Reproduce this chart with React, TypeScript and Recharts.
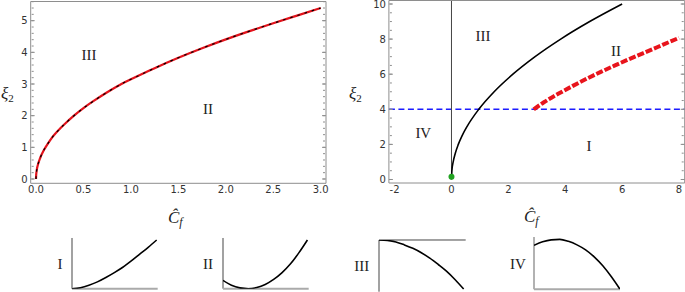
import React from 'react';
import { ComposedChart, Line, XAxis, YAxis, ReferenceLine, Scatter } from 'recharts';

// ---------- Left panel: boundary curve (black solid + red dashed overlay)
const leftCf = [0, 0.002, 0.005, 0.01, 0.02, 0.035, 0.05, 0.075, 0.1, 0.15, 0.2, 0.25, 0.3, 0.4, 0.5, 0.6, 0.75, 0.9, 1.0, 1.25, 1.5, 1.75, 2.0, 2.25, 2.5, 2.75, 3.0];
const leftXi = [0, 0.14, 0.22, 0.32, 0.45, 0.59, 0.71, 0.87, 1.0, 1.23, 1.42, 1.58, 1.73, 2.0, 2.24, 2.45, 2.74, 3.0, 3.15, 3.5, 3.83, 4.13, 4.41, 4.67, 4.92, 5.16, 5.4];

// ---------- Right panel
const rightBlackCf = [0, 0.015, 0.06, 0.135, 0.24, 0.375, 0.54, 0.96, 1.5, 2.16, 2.94, 3.84, 4.86, 6.0];
const rightBlackXi = [0, 0.5, 1, 1.5, 2, 2.5, 3, 4, 5, 6, 7, 8, 9, 10];
const rightRedCf = [2.89, 3.25, 3.75, 4.25, 4.75, 5.25, 5.75, 6.25, 6.75, 7.25, 7.75, 8.0];
const rightRedXi = [4.0, 4.4, 4.88, 5.32, 5.74, 6.13, 6.5, 6.86, 7.2, 7.55, 7.9, 8.07];
const rightBlueXi = 4;
const rightVerticalCf = [0, 0];
const rightVerticalXi = [0.15, 10.2];
const greenCf = [0];
const greenXi = [0.15];

// ---------- Tick labels
const leftXTicks = [0, 0.5, 1, 1.5, 2, 2.5, 3];
const leftYTicks = [0, 1, 2, 3, 4, 5];
const rightXTicks = [-2, 0, 2, 4, 6, 8];
const rightYTicks = [0, 2, 4, 6, 8, 10];

// ---------- Inset sketches (I..IV)
const insetX = [0, 0.1, 0.2, 0.3, 0.4, 0.5, 0.6, 0.7, 0.8, 0.9, 1.0];
const insetI = [0, 0.02, 0.07, 0.14, 0.23, 0.33, 0.44, 0.57, 0.71, 0.85, 1.0];
const insetII = [0.17, 0.07, 0.016, 0, 0.024, 0.087, 0.19, 0.33, 0.51, 0.74, 1.0];
const insetIII = [0, -0.01, -0.04, -0.1, -0.17, -0.26, -0.37, -0.5, -0.64, -0.81, -1.0];
const insetIV = [0.88, 0.95, 0.99, 1.0, 0.96, 0.89, 0.79, 0.65, 0.47, 0.25, 0];

const zip = (xs: number[], ys: number[]) => xs.map((x, i) => ({ x, y: ys[i] }));
const range = (a: number, b: number, s: number) => {
  const out: number[] = [];
  for (let k = 0; a + k * s <= b + 1e-9; k++) out.push(Math.round((a + k * s) * 1000) / 1000);
  return out;
};

const FRAME = '#8e8e8e';
const LABEL = '#333';
const noTick = () => <g />;

function frameAxes(
  xd: [number, number],
  yd: [number, number],
  xMaj: number[],
  xMin: number[],
  yMaj: number[],
  yMin: number[],
  yWidth: number,
  xfmt?: (v: number) => string
) {
  const c = { type: 'number' as const, allowDataOverflow: true, interval: 0 as const };
  const tickFont = { fill: LABEL, fontSize: 10, fontFamily: 'DejaVu Sans, sans-serif' };
  const tl = { stroke: FRAME, strokeWidth: 1 };
  return [
    <XAxis key="xl" xAxisId="x" dataKey="x" {...c} domain={xd} ticks={xMaj} tickFormatter={xfmt}
      tickLine={false} tickSize={0} tickMargin={3} height={20} axisLine={{ stroke: FRAME }} tick={tickFont} />,
    <XAxis key="xb1" xAxisId="xb1" {...c} domain={xd} ticks={xMaj} orientation="bottom" mirror height={1}
      tickSize={4} tick={noTick} axisLine={false} tickLine={tl} />,
    <XAxis key="xb2" xAxisId="xb2" {...c} domain={xd} ticks={xMin} orientation="bottom" mirror height={1}
      tickSize={2} tick={noTick} axisLine={false} tickLine={tl} />,
    <XAxis key="xt1" xAxisId="xt1" {...c} domain={xd} ticks={xMaj} orientation="top" mirror height={1}
      tickSize={4} tick={noTick} axisLine={{ stroke: FRAME }} tickLine={tl} />,
    <XAxis key="xt2" xAxisId="xt2" {...c} domain={xd} ticks={xMin} orientation="top" mirror height={1}
      tickSize={2} tick={noTick} axisLine={false} tickLine={tl} />,
    <YAxis key="yl" yAxisId="y" dataKey="y" {...c} domain={yd} ticks={yMaj} width={yWidth}
      tickLine={false} tickSize={0} tickMargin={3} axisLine={{ stroke: FRAME }} tick={tickFont} />,
    <YAxis key="yb1" yAxisId="yb1" {...c} domain={yd} ticks={yMaj} orientation="left" mirror width={1}
      tickSize={4} tick={noTick} axisLine={false} tickLine={tl} />,
    <YAxis key="yb2" yAxisId="yb2" {...c} domain={yd} ticks={yMin} orientation="left" mirror width={1}
      tickSize={2} tick={noTick} axisLine={false} tickLine={tl} />,
    <YAxis key="yr1" yAxisId="yr1" {...c} domain={yd} ticks={yMaj} orientation="right" mirror width={1}
      tickSize={4} tick={noTick} axisLine={{ stroke: FRAME }} tickLine={tl} />,
    <YAxis key="yr2" yAxisId="yr2" {...c} domain={yd} ticks={yMin} orientation="right" mirror width={1}
      tickSize={2} tick={noTick} axisLine={false} tickLine={tl} />,
  ];
}

function Inset(props: {
  left: number; top: number; w: number; h: number;
  xd: [number, number]; yd: [number, number]; ys: number[];
  vColor: string; vWidth: number; hColor: string; hWidth: number;
}) {
  const { left, top, w, h, xd, yd, ys, vColor, vWidth, hColor, hWidth } = props;
  return (
    <div style={{ position: 'absolute', left: left - 2, top: top - 2 }}>
      <ComposedChart width={w + 4} height={h + 4} margin={{ top: 2, right: 2, bottom: 2, left: 2 }}>
        <XAxis dataKey="x" type="number" domain={xd} allowDataOverflow hide />
        <YAxis dataKey="y" type="number" domain={yd} allowDataOverflow hide />
        <ReferenceLine x={0} stroke={vColor} strokeWidth={vWidth} />
        <ReferenceLine y={0} stroke={hColor} strokeWidth={hWidth} />
        <Line data={zip(insetX, ys)} dataKey="y" stroke="#000" strokeWidth={1.6} dot={false}
          isAnimationActive={false} type="monotone" />
      </ComposedChart>
    </div>
  );
}

const serif = 'Liberation Serif, Times New Roman, serif';

export default function App() {
  const leftData = zip(leftCf, leftXi);
  return (
    <div style={{ position: 'absolute', left: 0, top: 0, width: 685, height: 292, background: '#fff', overflow: 'hidden' }}>
      {/* Left panel */}
      <div style={{ position: 'absolute', left: 0, top: 0 }}>
        <ComposedChart width={340} height={210} margin={{ top: 1.5, right: 14, bottom: 6.7, left: 0 }}>
          {frameAxes([-0.0558, 3.0558], [-0.136, 5.606], leftXTicks, range(0, 3, 0.1), leftYTicks, range(0, 5.6, 0.2), 30.7,
            (v: number) => v.toFixed(1))}
          <Line xAxisId="x" yAxisId="y" data={leftData} dataKey="y" stroke="#e3121b" strokeWidth={2.2}
            dot={false} isAnimationActive={false} type="natural" />
          <Line xAxisId="x" yAxisId="y" data={leftData} dataKey="y" stroke="#000" strokeWidth={1.2}
            strokeDasharray="2.5 5" dot={false} isAnimationActive={false} type="natural" />
        </ComposedChart>
      </div>

      {/* Right panel */}
      <div style={{ position: 'absolute', left: 340, top: 0 }}>
        <ComposedChart width={345} height={210} margin={{ top: 0.5, right: 0.3, bottom: 7, left: 17.9 }}>
          {frameAxes([-2.2, 8.2], [-0.2, 10.2], rightXTicks, range(-2, 8, 0.5), rightYTicks, range(0, 10, 0.5), 31)}
          <ReferenceLine xAxisId="x" yAxisId="y" y={rightBlueXi} stroke="#1c1cff" strokeWidth={1.4} strokeDasharray="6 3.5" />
          <Line xAxisId="x" yAxisId="y" data={zip(rightVerticalCf, rightVerticalXi)} dataKey="y" stroke="#444"
            strokeWidth={1} dot={false} isAnimationActive={false} />
          <Line xAxisId="x" yAxisId="y" data={zip(rightBlackCf, rightBlackXi)} dataKey="y" stroke="#000"
            strokeWidth={1.6} dot={false} isAnimationActive={false} type="monotone" />
          <Line xAxisId="x" yAxisId="y" data={zip(rightRedCf, rightRedXi)} dataKey="y" stroke="#e8141c"
            strokeWidth={4} strokeDasharray="7 2" dot={false} isAnimationActive={false} type="monotone" />
          <Scatter xAxisId="x" yAxisId="y" data={zip(greenCf, greenXi)} dataKey="y" isAnimationActive={false}
            shape={(p: any) => <circle cx={p.cx} cy={p.cy} r={3} fill="#22a322" />} />
        </ComposedChart>
      </div>

      {/* Insets */}
      <Inset left={72.3} top={238} w={85.7} h={50.7} xd={[0, 1.012]} yd={[0, 1.041]} ys={insetI}
        vColor="#444" vWidth={1} hColor="#aaa" hWidth={2} />
      <Inset left={223.3} top={238} w={85.7} h={50.7} xd={[0, 1.015]} yd={[0, 1.041]} ys={insetII}
        vColor="#444" vWidth={1} hColor="#aaa" hWidth={2} />
      <Inset left={379.3} top={240} w={86.7} h={51.7} xd={[0, 1.024]} yd={[-1.055, 0]} ys={insetIII}
        vColor="#444" vWidth={1} hColor="#444" hWidth={1} />
      <Inset left={534} top={236.7} w={86} h={52.3} xd={[0, 1.0]} yd={[0, 1.047]} ys={insetIV}
        vColor="#999" vWidth={1.5} hColor="#aaa" hWidth={2} />

      {/* Text overlay */}
      <svg width={685} height={292} style={{ position: 'absolute', left: 0, top: 0, pointerEvents: 'none' }}>
        <g fontFamily={serif} fontSize={15} fill="#222" textAnchor="middle" dominantBaseline="central">
          <text x={89} y={55}>III</text>
          <text x={208} y={109}>II</text>
          <text x={483} y={36}>III</text>
          <text x={616} y={50.7}>II</text>
          <text x={423.3} y={133.3}>IV</text>
          <text x={589} y={146}>I</text>
          <text x={60} y={264}>I</text>
          <text x={208} y={264}>II</text>
          <text x={361.7} y={265.7}>III</text>
          <text x={518} y={264}>IV</text>
        </g>
        <g fontFamily={serif} fill="#222">
          <text x={1} y={99} fontSize={17} fontStyle="italic">ξ<tspan fontSize={11} fontStyle="normal" dy={3}>2</tspan></text>
          <text x={349} y={99} fontSize={17} fontStyle="italic">ξ<tspan fontSize={11} fontStyle="normal" dy={3}>2</tspan></text>
          <text x={168} y={223} fontSize={17} fontStyle="italic">Ĉ<tspan fontSize={12} dy={3}>f</tspan></text>
          <text x={524} y={221.5} fontSize={17} fontStyle="italic">Ĉ<tspan fontSize={12} dy={3}>f</tspan></text>
        </g>
      </svg>
    </div>
  );
}
